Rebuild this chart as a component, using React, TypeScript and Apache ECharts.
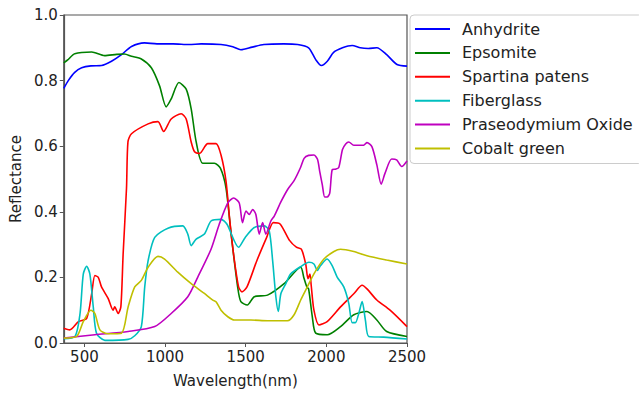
import React, { useEffect, useRef } from "react";
import * as echarts from "echarts";

const seriesNames = ["Anhydrite", "Epsomite", "Spartina patens", "Fiberglass", "Praseodymium Oxide", "Cobalt green"];
const seriesColors = ["#0000ff", "#008000", "#ff0000", "#00bfbf", "#bf00bf", "#bfbf00"];

const anhydriteWl = [372, 400, 440, 483, 540, 606, 668, 730, 792, 872, 950, 1050, 1150, 1224, 1347, 1420, 1470, 1540, 1613, 1736, 1822, 1890, 1934, 1969, 2006, 2045, 2100, 2160, 2211, 2260, 2313, 2374, 2438, 2500];
const anhydriteVal = [0.776, 0.80, 0.825, 0.839, 0.845, 0.846, 0.859, 0.879, 0.904, 0.915, 0.912, 0.912, 0.91, 0.912, 0.91, 0.903, 0.894, 0.902, 0.91, 0.912, 0.91, 0.90, 0.864, 0.846, 0.859, 0.886, 0.9, 0.907, 0.9, 0.898, 0.9, 0.879, 0.849, 0.844];

const epsomiteWl = [372, 400, 440, 545, 625, 700, 748, 792, 853, 915, 966, 1007, 1038, 1086, 1131, 1162, 1193, 1234, 1306, 1343, 1378, 1410, 1450, 1470, 1510, 1553, 1635, 1738, 1841, 1860, 1879, 1890, 1913, 1934, 2006, 2088, 2170, 2252, 2313, 2374, 2500];
const epsomiteVal = [0.854, 0.865, 0.882, 0.887, 0.876, 0.88, 0.881, 0.874, 0.866, 0.839, 0.784, 0.72, 0.744, 0.794, 0.774, 0.714, 0.613, 0.548, 0.548, 0.533, 0.472, 0.33, 0.171, 0.126, 0.116, 0.141, 0.146, 0.181, 0.231, 0.2, 0.171, 0.165, 0.08, 0.03, 0.025, 0.05, 0.086, 0.096, 0.07, 0.035, 0.02];

const spartinaWl = [372, 409, 463, 514, 545, 565, 586, 606, 647, 678, 688, 709, 726, 740, 761, 770, 792, 895, 956, 991, 1038, 1100, 1131, 1162, 1183, 1214, 1265, 1316, 1347, 1378, 1400, 1425, 1456, 1477, 1508, 1569, 1630, 1671, 1713, 1773, 1814, 1845, 1872, 1886, 1898, 1906, 1923, 1954, 2005, 2088, 2170, 2222, 2252, 2313, 2395, 2500];
const spartinaVal = [0.045, 0.04, 0.065, 0.075, 0.15, 0.206, 0.2, 0.171, 0.136, 0.10, 0.11, 0.09, 0.11, 0.27, 0.472, 0.613, 0.638, 0.668, 0.675, 0.645, 0.683, 0.699, 0.683, 0.613, 0.583, 0.578, 0.608, 0.608, 0.573, 0.493, 0.38, 0.27, 0.171, 0.156, 0.171, 0.251, 0.322, 0.367, 0.363, 0.312, 0.292, 0.286, 0.241, 0.196, 0.21, 0.176, 0.1, 0.055, 0.065, 0.11, 0.15, 0.176, 0.165, 0.131, 0.1, 0.05];

const fiberglassWl = [372, 442, 473, 493, 514, 534, 555, 575, 627, 771, 812, 853, 874, 895, 936, 1018, 1110, 1141, 1162, 1193, 1244, 1285, 1347, 1384, 1456, 1497, 1553, 1615, 1646, 1667, 1687, 1702, 1718, 1749, 1779, 1841, 1892, 1923, 1944, 1964, 2005, 2036, 2067, 2108, 2139, 2160, 2180, 2201, 2222, 2242, 2263, 2355, 2500];
const fiberglassVal = [0.013, 0.02, 0.09, 0.21, 0.234, 0.21, 0.11, 0.03, 0.008, 0.011, 0.022, 0.05, 0.171, 0.251, 0.322, 0.35, 0.357, 0.332, 0.297, 0.317, 0.332, 0.372, 0.377, 0.362, 0.292, 0.322, 0.352, 0.357, 0.342, 0.251, 0.141, 0.096, 0.15, 0.181, 0.211, 0.233, 0.246, 0.241, 0.221, 0.236, 0.256, 0.236, 0.201, 0.171, 0.121, 0.062, 0.062, 0.09, 0.126, 0.07, 0.02, 0.018, 0.012];

const praseoWl = [372, 565, 771, 936, 1038, 1141, 1203, 1285, 1336, 1389, 1425, 1460, 1480, 1502, 1522, 1543, 1563, 1584, 1605, 1625, 1656, 1677, 1718, 1760, 1800, 1840, 1862, 1890, 1923, 1945, 1960, 1975, 1990, 2005, 2021, 2036, 2056, 2077, 2100, 2120, 2139, 2170, 2231, 2252, 2283, 2313, 2340, 2364, 2405, 2436, 2467, 2500];
const praseoVal = [0.015, 0.025, 0.035, 0.05, 0.09, 0.141, 0.201, 0.286, 0.362, 0.427, 0.442, 0.427, 0.367, 0.402, 0.392, 0.407, 0.392, 0.332, 0.367, 0.332, 0.372, 0.387, 0.43, 0.468, 0.495, 0.535, 0.563, 0.572, 0.573, 0.56, 0.52, 0.482, 0.445, 0.445, 0.457, 0.528, 0.53, 0.535, 0.59, 0.607, 0.613, 0.603, 0.603, 0.611, 0.598, 0.543, 0.484, 0.518, 0.561, 0.558, 0.538, 0.555];

const cobaltWl = [372, 452, 493, 540, 565, 596, 647, 730, 771, 812, 853, 895, 956, 997, 1079, 1162, 1244, 1296, 1316, 1347, 1389, 1430, 1532, 1635, 1759, 1800, 1841, 1882, 1923, 1985, 2047, 2088, 2170, 2252, 2374, 2500];
const cobaltVal = [0.015, 0.02, 0.065, 0.1, 0.09, 0.04, 0.028, 0.03, 0.11, 0.171, 0.191, 0.231, 0.264, 0.256, 0.216, 0.181, 0.151, 0.131, 0.126, 0.1, 0.08, 0.07, 0.07, 0.068, 0.068, 0.086, 0.131, 0.171, 0.211, 0.256, 0.279, 0.286, 0.279, 0.266, 0.253, 0.241];

const xTicks = [500, 1000, 1500, 2000, 2500];
const xMin = 372;
const xMax = 2500;

const allWl = [anhydriteWl, epsomiteWl, spartinaWl, fiberglassWl, praseoWl, cobaltWl];
const allVal = [anhydriteVal, epsomiteVal, spartinaVal, fiberglassVal, praseoVal, cobaltVal];

const FONT = "DejaVu Sans";

export default function App() {
  const ref = useRef<HTMLDivElement>(null);
  useEffect(() => {
    document.body.style.margin = "0";
    const chart = echarts.init(ref.current!, null, { renderer: "svg" });
    const series = seriesNames.map((name, i) => ({
      name,
      type: "line",
      data: allWl[i].map((w, j) => [w, allVal[i][j]]),
      showSymbol: false,
      symbol: "none",
      smooth: 0.25,
      lineStyle: { color: seriesColors[i], width: 1.6 },
      itemStyle: { color: seriesColors[i] },
    }));
    chart.setOption({
      animation: false,
      backgroundColor: "#ffffff",
      grid: {
        left: 62,
        top: 15,
        width: 345,
        height: 332,
        show: true,
        borderColor: "#555",
        borderWidth: 1.2,
        backgroundColor: "transparent",
      },
      legend: {
        orient: "vertical",
        left: 410,
        top: 15,
        data: seriesNames,
        icon: "path://M0,0 L35,0 L35,2 L0,2 Z",
        itemWidth: 35,
        itemHeight: 2,
        itemGap: 7.9,
        padding: [6, 10, 7, 5],
        backgroundColor: "#ffffff",
        borderColor: "#cccccc",
        borderWidth: 1,
        borderRadius: 4,
        textStyle: {
          fontFamily: FONT,
          fontSize: 16,
          color: "#222",
          padding: [0, 0, 0, 7],
          lineHeight: 14,
          height: 14,
        },
      },
      xAxis: {
        type: "value",
        min: xMin,
        max: xMax,
        name: "Wavelength(nm)",
        nameLocation: "middle",
        nameGap: 30,
        nameTextStyle: { fontFamily: FONT, fontSize: 15, color: "#222" },
        axisLine: { show: true, lineStyle: { color: "#555", width: 1.2 } },
        axisTick: { show: true, length: 4, lineStyle: { color: "#555" }, customValues: xTicks },
        axisLabel: {
          fontFamily: FONT,
          fontSize: 15,
          color: "#222",
          margin: 6,
          customValues: xTicks,
          showMinLabel: true,
          showMaxLabel: true,
          formatter: (v: number) => String(v),
        },
        splitLine: { show: false },
      },
      yAxis: {
        type: "value",
        min: 0,
        max: 1,
        interval: 0.2,
        name: "Reflectance",
        nameLocation: "middle",
        nameGap: 37,
        nameTextStyle: { fontFamily: FONT, fontSize: 15, color: "#222" },
        axisLine: { show: true, lineStyle: { color: "#555", width: 1.2 } },
        axisTick: { show: true, length: 4, lineStyle: { color: "#555" } },
        axisLabel: {
          fontFamily: FONT,
          fontSize: 15,
          color: "#222",
          margin: 6,
          formatter: (v: number) => v.toFixed(1),
        },
        splitLine: { show: false },
      },
      series,
    });
    return () => chart.dispose();
  }, []);
  return (
    <div
      ref={ref}
      style={{ position: "fixed", left: 0, top: 0, width: 639, height: 393, background: "#fff" }}
    />
  );
}
